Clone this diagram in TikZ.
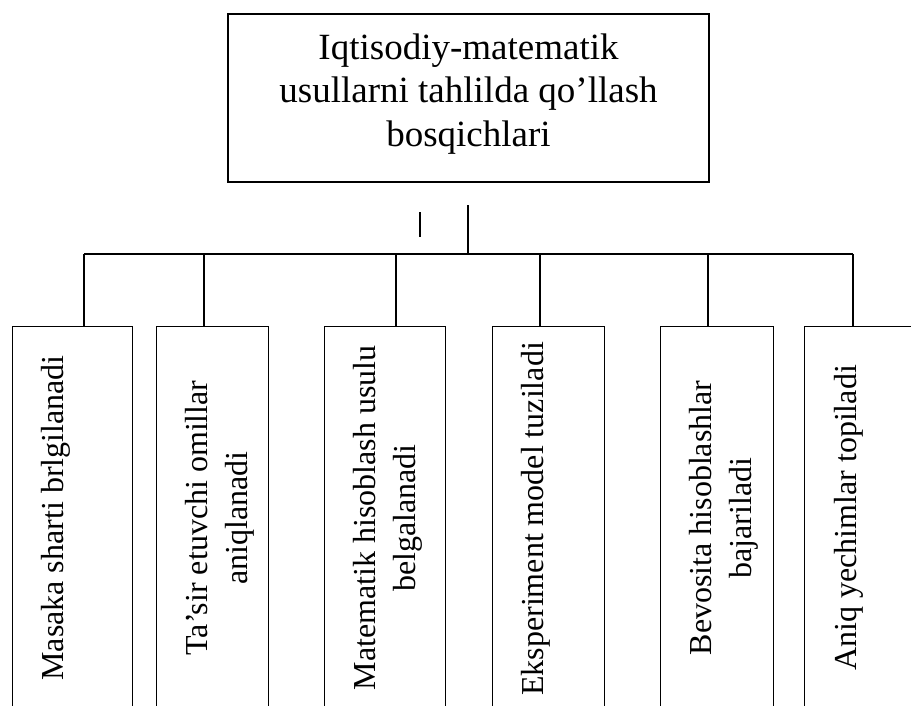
\documentclass[tikz,border=0pt]{standalone}
\usepackage{fontspec}
\setmainfont{Liberation Serif}
\begin{document}
\begin{tikzpicture}[x=1bp,y=-1bp,
  line/.style={draw=black, line width=1.3bp},
  headbox/.style={draw=black, line width=1.5bp, minimum width=481bp, minimum height=168bp, inner sep=0pt},
  stepbox/.style={draw=black, line width=1.3bp, minimum height=386bp, inner sep=0pt, anchor=north west},
  headtext/.style={font=\fontsize{37bp}{43.5bp}\selectfont, align=center, inner sep=0pt},
  steptext/.style={font=\fontsize{32bp}{40bp}\selectfont, align=center, inner sep=0pt, rotate=90}]
\useasboundingbox (0,0) rectangle (911,706);
\clip (0,0) rectangle (911,706);
\fill[white] (0,0) rectangle (911,706);

% heading
\node[headbox] (head) at (468.5,98) {};
\node[headtext] (title) at (468.5,94) {Iqtisodiy-matematik\\usullarni tahlilda qo’llash\\bosqichlari};

% step boxes
\node[stepbox, minimum width=120bp] (s1) at (12,326) {};
\node[stepbox, minimum width=112bp] (s2) at (156,326) {};
\node[stepbox, minimum width=121bp] (s3) at (324,326) {};
\node[stepbox, minimum width=112bp] (s4) at (492,326) {};
\node[stepbox, minimum width=113bp] (s5) at (660,326) {};
\node[stepbox, minimum width=125bp] (s6) at (804,326) {};

% step texts
\node[steptext] (t1) at (55.5,518) {Masaka sharti brlgilanadi};
\node[steptext] (t2) at (219.5,518) {Ta’sir etuvchi omillar\\aniqlanadi};
\node[steptext] (t3) at (387.5,518) {Matematik hisoblash usulu\\belgalanadi};
\node[steptext] (t4) at (535.5,519) {Eksperiment model tuziladi};
\node[steptext] (t5) at (723.3,518) {Bevosita hisoblashlar\\bajariladi};
\node[steptext] (t6) at (848.5,518) {Aniq yechimlar topiladi};

% connectors
\coordinate (stem) at (468,205);
\coordinate (hub) at (468,254);
\coordinate (j1) at (84,254);
\coordinate (j2) at (204,254);
\coordinate (j3) at (396,254);
\coordinate (j4) at (540,254);
\coordinate (j5) at (708,254);
\coordinate (j6) at (853,254);
\draw[line] (j1) -- (j6);
\draw[line] (stem) -- (hub);
\foreach \i in {1,...,6}
  \draw[line] (j\i) -- (j\i |- s\i.north);

% short stray tick and doubled bus segment
\coordinate (tickA) at (420,212);
\coordinate (tickB) at (420,237);
\draw[line] (tickA) -- (tickB);
\coordinate (segA) at (420,254);
\coordinate (segB) at (445,254);
\draw[draw=black, line width=2.3bp] (segA) -- (segB);
\end{tikzpicture}
\end{document}
